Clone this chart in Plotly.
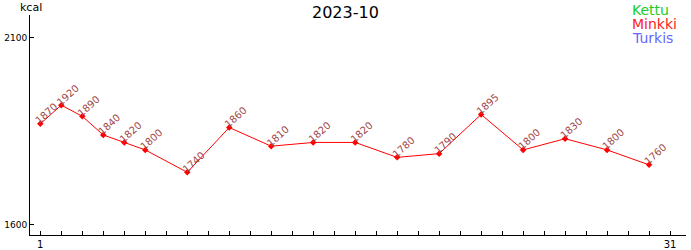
import plotly.graph_objects as go

days = [1, 2, 3, 4, 5, 6, 8, 10, 12, 14, 16, 18, 20, 22, 24, 26, 28, 30]
minkki = [1870, 1920, 1890, 1840, 1820, 1800, 1740, 1860, 1810, 1820, 1820, 1780, 1790, 1895, 1800, 1830, 1800, 1760]
legend_names = ["Kettu", "Minkki", "Turkis"]
legend_colors = ["#22cc22", "#ff2222", "#6666ff"]
x_tick_vals = list(range(1, 32))
x_tick_text = ["1"] + [""] * 29 + ["31"]
y_tick_vals = [1600, 2100]

fig = go.Figure()
fig.add_trace(go.Scatter(
    x=days, y=minkki, mode="lines+markers",
    line=dict(color="#ff0000", width=1),
    marker=dict(symbol="diamond", size=5, color="#ff0000"),
    showlegend=False, hoverinfo="skip",
))

for d, v in zip(days, minkki):
    fig.add_annotation(x=d, y=v, xref="x", yref="y", text=str(v), showarrow=False,
                       textangle=-42, xshift=6, yshift=10,
                       font=dict(family="DejaVu Sans", size=10, color="#a04848"))

fig.add_annotation(x=0.481, y=1.0, xref="paper", yref="paper", xanchor="center", yanchor="middle",
                   text="2023-10", showarrow=False, yshift=2.5,
                   font=dict(family="DejaVu Sans", size=16, color="#000"))
fig.add_annotation(xref="paper", yref="paper", x=0.0, y=1, xanchor="left", yanchor="middle",
                   text="kcal", showarrow=False, xshift=-12, yshift=8,
                   font=dict(family="DejaVu Sans", size=11, color="#000"), align="left")

for i, (n, c) in enumerate(zip(legend_names, legend_colors)):
    fig.add_annotation(xref="paper", yref="paper", x=1, y=1, xanchor="left", yanchor="middle",
                       text=n, showarrow=False, xshift=-56, yshift=5 - 14 * i,
                       font=dict(family="DejaVu Sans", size=14, color=c))

fig.update_xaxes(range=[0.509, 31.76], tickvals=x_tick_vals, ticktext=x_tick_text,
                 ticks="inside", ticklen=4, tickcolor="#000", showline=True, linecolor="#000",
                 linewidth=1, showgrid=False, zeroline=False, automargin=False,
                 tickfont=dict(family="DejaVu Sans", size=10, color="#000"))
fig.update_yaxes(range=[1572, 2161.5], tickvals=y_tick_vals, ticks="inside", ticklen=4,
                 tickcolor="#000", showline=True, linecolor="#000", linewidth=1,
                 showgrid=False, zeroline=False, automargin=False,
                 tickfont=dict(family="DejaVu Sans", size=9, color="#000"))

fig.update_layout(width=691, height=250, margin=dict(l=30, r=5, t=15, b=15, autoexpand=False),
                  plot_bgcolor="#fff", paper_bgcolor="#fff")

fig.write_html("out.html")
